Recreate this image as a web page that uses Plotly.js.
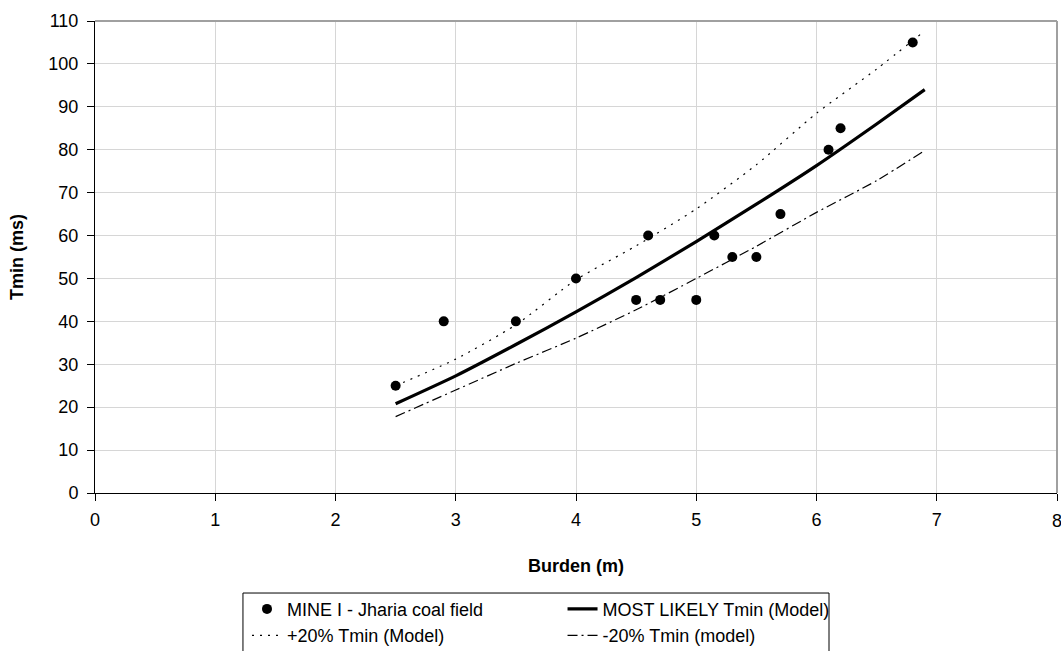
<!DOCTYPE html>
<html>
<head>
<meta charset="utf-8">
<script src="https://cdn.plot.ly/plotly-3.0.1.min.js"></script>
<style>html,body{margin:0;padding:0;background:#fff;overflow:hidden;}#chart{width:1061px;height:651px;}</style>
</head>
<body>
<div id="chart"></div>
<script>
// Measured data (MINE I - Jharia coal field)
const burdenObs = [2.5, 2.9, 3.5, 4.0, 4.5, 4.6, 4.7, 5.0, 5.15, 5.3, 5.5, 5.7, 6.1, 6.2, 6.8];
const tminObs   = [25, 40, 40, 50, 45, 60, 45, 45, 60, 55, 55, 65, 80, 85, 105];

// Model curves
const burdenModel = [2.5, 3.0, 3.5, 4.0, 4.5, 5.0, 5.5, 6.0, 6.5, 6.9];
const tminLikely  = [20.8, 27.3, 34.6, 42.2, 50.2, 58.6, 67.3, 76.3, 86.0, 94.0];
const tminPlus20  = [25.0, 31.2, 39.2, 49.7, 57.6, 66.2, 76.5, 88.5, 98.8, 107.7];
const tminMinus20 = [17.8, 24.0, 30.2, 36.1, 42.7, 50.0, 57.5, 65.4, 72.8, 79.8];

const xTicks = [0, 1, 2, 3, 4, 5, 6, 7, 8];
const yTicks = [0, 10, 20, 30, 40, 50, 60, 70, 80, 90, 100, 110];

const font = 'Arial, "Liberation Sans", sans-serif';
const fs = 18;

const traces = [
  {x: burdenObs, y: tminObs, mode: 'markers', type: 'scatter',
   name: 'MINE I - Jharia coal field', legend: 'legend',
   marker: {color: '#000', size: 10, symbol: 'circle'}},
  {x: burdenModel, y: tminLikely, mode: 'lines', type: 'scatter',
   name: 'MOST LIKELY Tmin (Model)', legend: 'legend2',
   line: {color: '#000', width: 3.2, shape: 'spline', smoothing: 0.6}},
  {x: burdenModel, y: tminPlus20, mode: 'lines', type: 'scatter',
   name: '+20% Tmin (Model)', legend: 'legend',
   line: {color: '#000', width: 1.2, dash: '2px,6px', shape: 'spline', smoothing: 0.6}},
  {x: burdenModel, y: tminMinus20, mode: 'lines', type: 'scatter',
   name: '-20% Tmin (model)', legend: 'legend2',
   line: {color: '#000', width: 1.2, dash: '10px,4px,2px,4px', shape: 'spline', smoothing: 0.6}}
];

const legendCommon = {
  orientation: 'v', xanchor: 'left', yanchor: 'top',
  borderwidth: 0, bgcolor: 'rgba(0,0,0,0)',
  font: {family: font, size: fs, color: '#000'},
  tracegroupgap: 0, itemwidth: 30
};

const layout = {
  width: 1061, height: 651,
  margin: {l: 95, r: 4, t: 21, b: 158, autoexpand: false},
  paper_bgcolor: '#fff', plot_bgcolor: '#fff',
  font: {family: font, size: fs, color: '#000'},
  showlegend: true,
  xaxis: {
    range: [0, 8], tickvals: xTicks, ticktext: xTicks.map(String),
    showgrid: true, gridcolor: '#d6d6d6', gridwidth: 1,
    zeroline: false, showline: true, linecolor: '#000', linewidth: 1,
    ticks: 'outside', ticklen: 7, tickcolor: '#000',
    ticklabelstandoff: 3,
    tickfont: {family: font, size: fs},
    title: {text: '<b>Burden (m)</b>', font: {family: font, size: fs}, standoff: 30},
    automargin: false
  },
  yaxis: {
    range: [0, 110], tickvals: yTicks, ticktext: yTicks.map(String),
    showgrid: true, gridcolor: '#d6d6d6', gridwidth: 1,
    zeroline: false, showline: true, linecolor: '#000', linewidth: 1,
    ticks: 'outside', ticklen: 7, tickcolor: '#000',
    ticklabelstandoff: 5,
    tickfont: {family: font, size: fs},
    title: {text: '<b>Tmin (ms)</b>', font: {family: font, size: fs}, standoff: 20},
    automargin: false
  },
  annotations: [
    {x: xTicks[8], xref: 'x', y: 0, yref: 'paper', yanchor: 'top', xanchor: 'center',
     yshift: -16, text: String(xTicks[8]), showarrow: false,
     font: {family: font, size: fs, color: '#000'}}
  ],
  shapes: [
    {type: 'line', xref: 'paper', yref: 'paper', x0: 0, x1: 1, y0: 1, y1: 1, line: {color: '#a0a0a0', width: 2}},
    {type: 'line', xref: 'paper', yref: 'paper', x0: 1, x1: 1, y0: 0, y1: 1, line: {color: '#a0a0a0', width: 2}},
    {type: 'rect', xref: 'paper', yref: 'paper', x0: 0.1538, x1: 0.763, y0: -0.2119, y1: -0.36,
     line: {color: '#000', width: 1}, fillcolor: 'rgba(0,0,0,0)'}
  ],
  legend: Object.assign({}, legendCommon, {x: 0.158, y: -0.207}),
  legend2: Object.assign({}, legendCommon, {x: 0.486, y: -0.207})
};

Plotly.newPlot('chart', traces, layout, {displayModeBar: false, staticPlot: true});
</script>
</body>
</html>
